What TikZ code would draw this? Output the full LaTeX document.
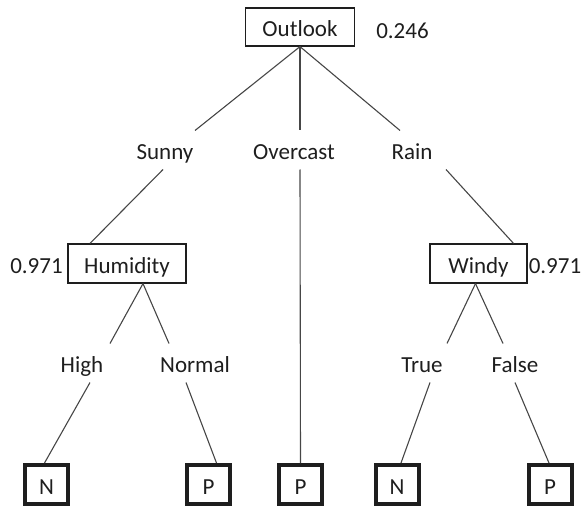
\documentclass[tikz,border=0pt]{standalone}
\usepackage{fontspec}
\setmainfont{Carlito}
\usetikzlibrary{positioning,calc}
\definecolor{ink}{RGB}{30,30,30}
\definecolor{edge}{RGB}{70,70,70}
\tikzset{
  every picture/.style={color=ink, line width=1pt, font=\fontsize{23}{27}\selectfont},
  attr/.style={draw=ink, line width=1.2pt, fill=white, inner sep=0pt, minimum height=38pt, text height=20pt, text depth=1pt},
  leaf/.style={draw=ink, line width=4pt, fill=white, inner sep=0pt, minimum width=43pt, minimum height=39pt, text height=20pt, text depth=1pt},
  val/.style={inner sep=0pt, minimum height=38pt, text height=20pt, text depth=1pt},
  gain/.style={inner sep=0pt, text height=20pt, text depth=1pt},
  branch/.style={color=edge, line width=1.1pt},
}
\begin{document}
\begin{tikzpicture}[x=1pt, y=-1pt]
  \useasboundingbox (0,0) rectangle (581,508);
  % decision nodes
  \node[attr, minimum width=109pt] (outlook) at (300,27) {Outlook};
  \node[attr, minimum width=118pt, minimum height=39pt] (hum) at (127,263.5) {Humidity};
  \node[attr, minimum width=97pt, minimum height=39pt] (windy) at (478.5,263.5) {Windy};
  \node[gain] (g1) at (402.5,29) {0.246};
  \node[gain] (g2) at (36.5,264) {0.971};
  \node[gain] (g3) at (555,264) {0.971};
  % branch values
  \node[val] (sunny) at (165,150) {Sunny};
  \node[val] (over) at (294,150) {Overcast};
  \node[val] (rain) at (412,150) {Rain};
  \node[val] (high) at (82,363) {High};
  \node[val] (normal) at (195,363) {Normal};
  \node[val] (true) at (422,363) {True};
  \node[val] (false) at (515,363) {False};
  % leaves
  \node[leaf] (n1) at (46.5,484.5) {N};
  \node[leaf] (p1) at (208.5,484.5) {P};
  \node[leaf] (p2) at (300.5,484.5) {P};
  \node[leaf] (n2) at (397,484.5) {N};
  \node[leaf] (p3) at (550,484.5) {P};
  % branches
  \draw[branch] (outlook.south) -- ([xshift=30pt]sunny.north);
  \draw[branch] ([xshift=-2pt]sunny.south) -- ([xshift=-37pt]hum.north);
  \draw[branch] (outlook.south) -- (outlook.south |- over.north);
  \draw[branch] (outlook.south |- over.south) -- (p2.north);
  \draw[branch] (outlook.south) -- ([xshift=-12pt]rain.north);
  \draw[branch] ([xshift=34pt]rain.south) -- ([xshift=35pt]windy.north);
  \draw[branch] ([xshift=16pt]hum.south) -- ([xshift=28pt]high.north);
  \draw[branch] ([xshift=16pt]hum.south) -- ([xshift=-26pt]normal.north);
  \draw[branch] ([xshift=8pt]high.south) -- ([xshift=-2pt]n1.north);
  \draw[branch] ([xshift=-9pt]normal.south) -- ([xshift=8pt]p1.north);
  \draw[branch] ([xshift=-3pt]windy.south) -- ([xshift=25pt]true.north);
  \draw[branch] ([xshift=-3pt]windy.south) -- ([xshift=-12pt]false.north);
  \draw[branch] ([xshift=8pt]true.south) -- ([xshift=4pt]n2.north);
  \draw[branch] (false.south) -- ([xshift=-1pt]p3.north);
\end{tikzpicture}
\end{document}
